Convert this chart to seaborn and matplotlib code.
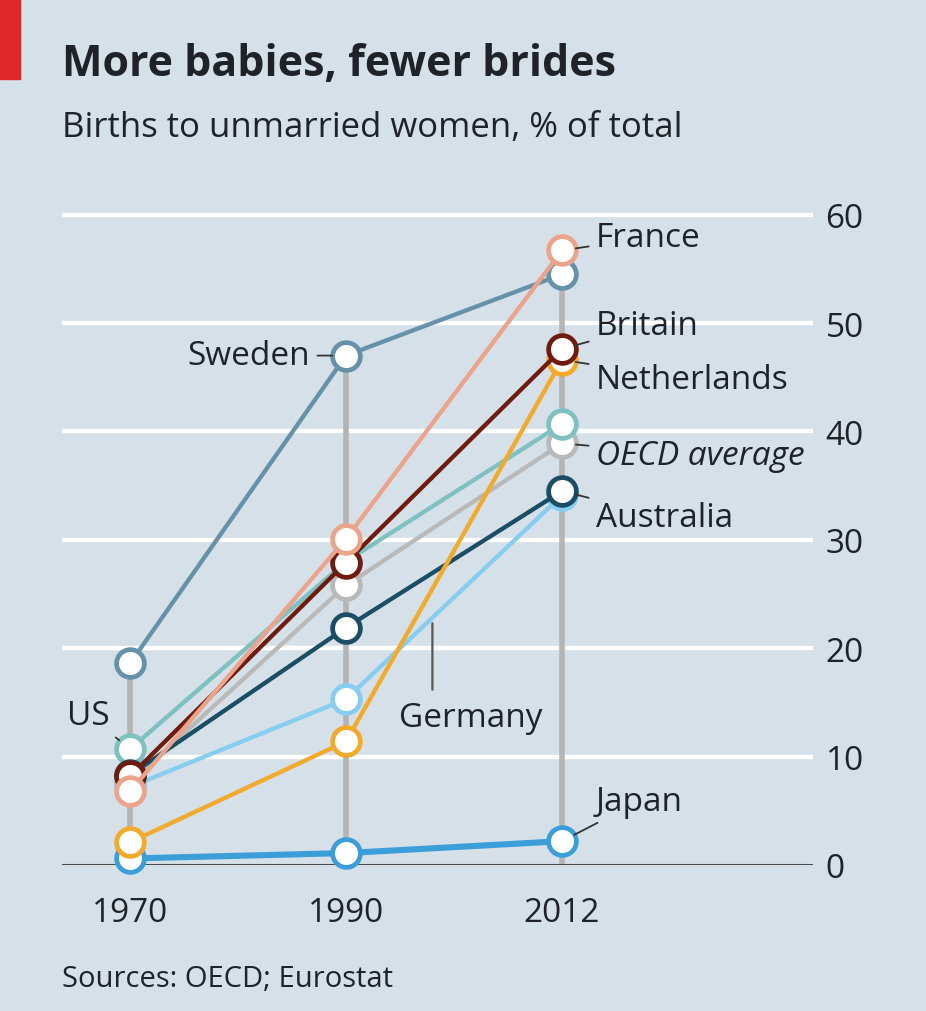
import matplotlib
matplotlib.use("Agg")
import matplotlib.pyplot as plt
import seaborn as sns
import pandas as pd
import numpy as np
from matplotlib.patches import Rectangle

# ---------------- data ----------------
years = ["1970", "1990", "2012"]
sweden = [18.6, 47.0, 54.5]
france = [6.8, 30.1, 56.7]
britain = [8.2, 27.9, 47.6]
netherlands = [2.1, 11.4, 46.6]
us = [10.7, 28.0, 40.7]
oecd = [7.6, 25.8, 38.9]
australia = [8.3, 21.9, 34.5]
germany = [7.2, 15.3, 34.1]
japan = [0.6, 1.1, 2.2]

countries = ["OECD average", "Germany", "US", "Australia", "Sweden",
             "Japan", "Netherlands", "Britain", "France"]
values = {"Sweden": sweden, "France": france, "Britain": britain,
          "Netherlands": netherlands, "US": us, "OECD average": oecd,
          "Australia": australia, "Germany": germany, "Japan": japan}
colors = {"Sweden": "#6591a9", "France": "#eba38b", "Britain": "#6e1c0f",
          "Netherlands": "#f2aa2c", "US": "#7fc0c1", "OECD average": "#b9b9b9",
          "Australia": "#1b4d64", "Germany": "#86cdf0", "Japan": "#3c9ed8"}
yticks = [0, 10, 20, 30, 40, 50, 60]

df = pd.DataFrame([{"year": y, "country": c, "value": v}
                   for c in countries for y, v in zip(years, values[c])])

# ---------------- style ----------------
BG = "#d5e0e9"
TXT = "#1f2328"
sns.set_theme(style="white")
plt.rcParams["font.family"] = ["Open Sans", "DejaVu Sans"]

fig = plt.figure(figsize=(9.26, 10.12), dpi=100, facecolor=BG)
ax = fig.add_axes([62/926, 1-866/1012, (813-62)/926, (866-194)/1012])
ax.set_facecolor(BG)

# vertical gray guide lines up to highest value in each year
pos = np.arange(len(years))
tops = [max(values[c][i] for c in countries) for i in range(len(years))]
ax.vlines(pos, 0, tops, color="#b4b4b4", lw=4, zorder=1)

for k, c in enumerate(countries):
    sub = df[df.country == c]
    lw = 4.4 if c == "Japan" else 3.1
    sns.lineplot(data=sub, x="year", y="value", ax=ax, color=colors[c],
                 lw=lw, marker="o", markersize=20, markerfacecolor="white",
                 markeredgecolor=colors[c], markeredgewidth=3.4,
                 zorder=3 + k, clip_on=False, legend=False)

ax.set_xlim(-(130-62)/216, (813-130)/216)
ax.set_ylim(0, 62)
ax.set_yticks(yticks)
ax.yaxis.tick_right()
ax.tick_params(axis="y", length=0, pad=9, labelsize=24, labelcolor=TXT)
ax.tick_params(axis="x", length=0, pad=22, labelsize=24, labelcolor=TXT)
ax.set_xticks(pos)
ax.set_xticklabels(years)
for t in yticks[1:]:
    ax.axhline(t, color="white", lw=3.2, zorder=0)
ax.axhline(0, color="#4a4a4a", lw=2.2, zorder=2)
ax.set_xlabel("")
ax.set_ylabel("")
for s in ax.spines.values():
    s.set_visible(False)

# ---------------- labels ----------------
px = 0.72
lead = dict(arrowstyle="-", color="#333333", lw=1.3, shrinkA=3, shrinkB=10)
fs = 24

def label(name, idx, dx, dy, ha="left", style="normal"):
    ax.annotate(name, xy=(idx, values[name][idx]),
                xytext=(dx*px, dy*px), textcoords="offset points",
                ha=ha, va="center", fontsize=fs, color=TXT, style=style,
                arrowprops=lead, zorder=30)

label("France", 2, 34, 13)
label("Britain", 2, 34, 24)
label("Netherlands", 2, 34, -20)
label("OECD average", 2, 34, -12, style="italic") if False else None
ax.annotate("OECD average", xy=(2, oecd[2]), xytext=(34*px, -12*px),
            textcoords="offset points", ha="left", va="center", fontsize=fs,
            color=TXT, style="italic", arrowprops=lead, zorder=30)
label("Australia", 2, 34, -26)
label("Japan", 2, 34, 40)
label("Sweden", 1, -36, 0, ha="right")
label("US", 0, -42, 34, ha="center")

# Germany leader points at its 1990-2012 segment
frac = 0.4
gy = germany[1] + frac*(germany[2]-germany[1])
ax.annotate("", xy=(1+frac, gy), xytext=(0, -72*px), textcoords="offset points",
            arrowprops=dict(arrowstyle="-", color="#555555", lw=1.6, shrinkA=0, shrinkB=4),
            zorder=30)
ax.annotate("Germany", xy=(1+frac, gy), xytext=(38*px, -100*px),
            textcoords="offset points", ha="center", va="center",
            fontsize=fs, color=TXT, zorder=30)

# ---------------- titles ----------------
fig.patches.append(Rectangle((0, 1-80/1012), 20/926, 80/1012,
                             transform=fig.transFigure, color="#e0282b"))
fig.text(62/926, 1-65/1012, "More babies, fewer brides", fontsize=31,
         fontweight="bold", color=TXT, va="center", ha="left")
fig.text(62/926, 1-128/1012, "Births to unmarried women, % of total",
         fontsize=25, color=TXT, va="center", ha="left")
fig.text(62/926, 1-980/1012, "Sources: OECD; Eurostat", fontsize=21,
         color=TXT, va="center", ha="left")

fig.savefig("out.png", dpi=100, facecolor=BG)
